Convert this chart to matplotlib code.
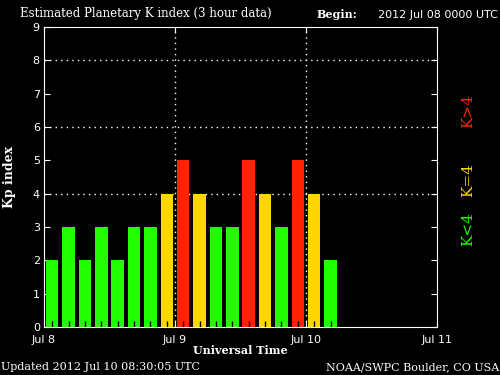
import matplotlib
matplotlib.use("Agg")
import matplotlib.pyplot as plt
import numpy as np

# Kp values, 3-hour intervals starting 2012 Jul 08 00 UTC
kp = [2, 3, 2, 3, 2, 3, 3, 4, 5, 4, 3, 3, 5, 4, 3, 5, 4, 2]
day_labels = ["Jul 8", "Jul 9", "Jul 10", "Jul 11"]
day_hours = [0, 24, 48, 72]

green = "#22ff00"
yellow = "#ffd700"
red = "#ff2200"


def kp_color(k):
    if k < 4:
        return green
    elif k == 4:
        return yellow
    return red


fig = plt.figure(figsize=(5, 3.75), dpi=100, facecolor="black")
ax = fig.add_axes([0.088, 0.128, 0.786, 0.800], facecolor="black")

hours = np.arange(len(kp)) * 3 + 1.5
colors = [kp_color(k) for k in kp]

# dotted grid
for y in [4, 6, 8]:
    ax.axhline(y, color="white", linestyle=(0, (1, 3)), linewidth=1, zorder=1)
for x in day_hours[1:3]:
    ax.axvline(x, color="white", linestyle=(0, (1, 3)), linewidth=1, zorder=1)

ax.bar(hours, kp, width=2.3, color=colors, zorder=2)

# small black ticks at bar centres
ax.vlines(hours, 0, 0.18, color="black", linewidth=1, zorder=3)

ax.set_xlim(0, 72)
ax.set_ylim(0, 9)
ax.set_xticks(day_hours)
ax.set_xticklabels(day_labels)
ax.set_yticks(range(10))

for s in ax.spines.values():
    s.set_color("white")
ax.tick_params(axis="both", colors="white", direction="in", labelsize=8,
               top=True, right=True, length=4)
ax.tick_params(axis="x", pad=6)
ax.tick_params(axis="y", pad=3)

ax.set_ylabel("Kp index", color="white", family="DejaVu Serif",
              fontweight="bold", fontsize=9, labelpad=12)
ax.set_xlabel("Universal Time", color="white", family="DejaVu Serif",
              fontweight="bold", fontsize=8, labelpad=0)

fig.text(0.04, 0.963, "Estimated Planetary K index (3 hour data)",
         color="white", family="DejaVu Serif", fontsize=8.5, va="center")
fig.text(0.634, 0.960, "Begin:", color="white", family="DejaVu Serif",
         fontweight="bold", fontsize=8, va="center")
fig.text(0.995, 0.960, "2012 Jul 08 0000 UTC", color="white",
         fontsize=8, va="center", ha="right")

fig.text(0.002, 0.022, "Updated 2012 Jul 10 08:30:05 UTC", color="white",
         family="DejaVu Serif", fontsize=8, va="center")
fig.text(0.998, 0.022, "NOAA/SWPC Boulder, CO USA", color="white",
         family="DejaVu Serif", fontsize=8, va="center", ha="right")

fig.text(0.937, 0.705, "K>4", color=red, rotation=90, family="DejaVu Serif",
         fontsize=11, va="center", ha="center")
fig.text(0.937, 0.520, "K=4", color=yellow, rotation=90, family="DejaVu Serif",
         fontsize=11, va="center", ha="center")
fig.text(0.937, 0.390, "K<4", color=green, rotation=90, family="DejaVu Serif",
         fontsize=11, va="center", ha="center")

fig.savefig("out.png", dpi=100, facecolor="black")
